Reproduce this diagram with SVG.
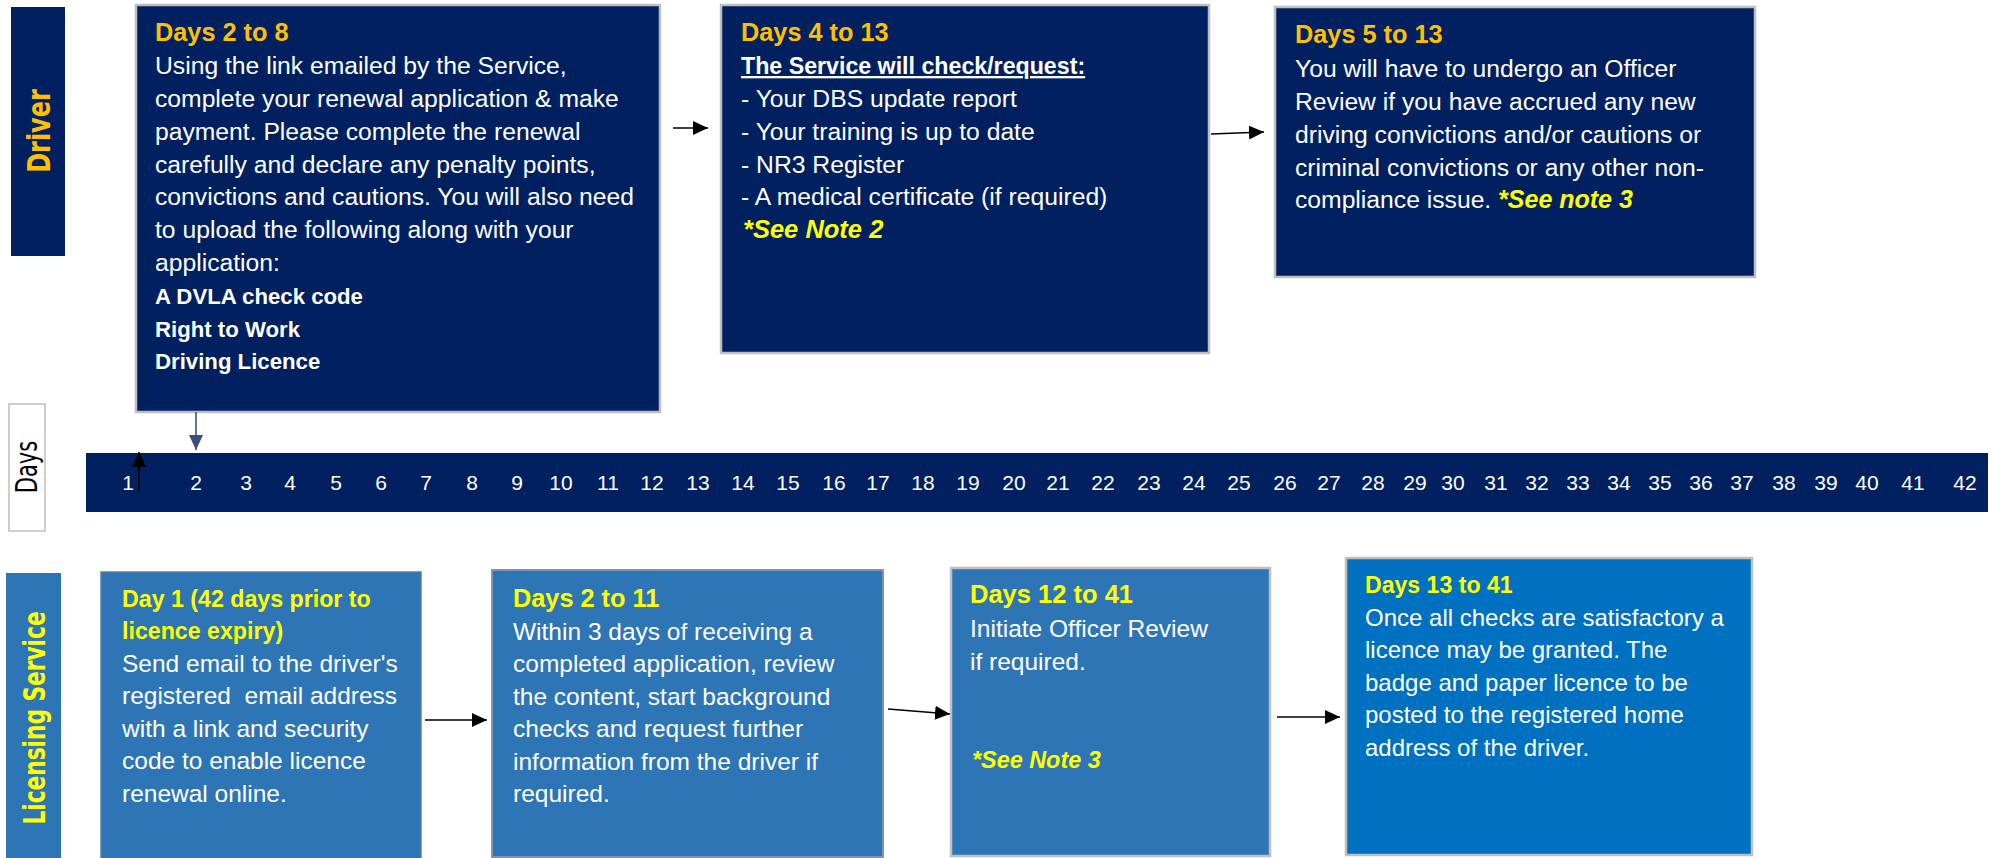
<svg xmlns="http://www.w3.org/2000/svg" width="1992" height="858" viewBox="0 0 1992 858">
<style>
text{font-family:"Liberation Sans",Arial,sans-serif}
.lane{font-family:"DejaVu Sans",Verdana,sans-serif;font-weight:bold}
.navy{fill:#002060;stroke:#BFBFBF;stroke-width:2.5}
.mid{fill:#2E75B6;stroke:#A6A6A6;stroke-width:2}
.bright{fill:#0070C0;stroke:#BFBFBF;stroke-width:2.5}
.amber{fill:#FFC000;font-weight:bold;font-size:25.3px}
.yel{fill:#FFFF00;font-weight:bold}
.note{fill:#FFFF00;font-weight:bold;font-style:italic}
.body{fill:#FFFFFF;font-size:24.7px}
.bodyL{fill:#FFFFFF;font-size:24.5px}
.bold{fill:#FFFFFF;font-weight:bold;font-size:22.2px}
.num{fill:#FFFFFF;font-size:21px;text-anchor:middle}
.conn{stroke:#000;stroke-width:1.6;fill:none}
</style>
<defs>
<marker id="ah" markerUnits="userSpaceOnUse" markerWidth="16" markerHeight="16" viewBox="0 0 16 16" refX="15" refY="8" orient="auto">
<path d="M0,1 L15,8 L0,15 Z" fill="#000"/>
</marker>
<marker id="ahs" markerUnits="userSpaceOnUse" markerWidth="16" markerHeight="16" viewBox="0 0 16 16" refX="15" refY="8" orient="auto">
<path d="M0,1 L15,8 L0,15 Z" fill="#3B4F7F"/>
</marker>
</defs>

<g id="lane-driver">
<rect x="11" y="7" width="54" height="249" fill="#002060"/>
<text class="lane" font-size="24" fill="#FFC000" text-anchor="middle" transform="translate(50,131) scale(1.35,1) rotate(-90)">Driver</text>
</g>

<g id="lane-days">
<rect x="9" y="404" width="36" height="127" fill="#FFFFFF" stroke="#BFBFBF" stroke-width="1.5"/>
<text font-family="DejaVu Sans,sans-serif" style="font-family:'DejaVu Sans',sans-serif" font-size="21" fill="#000" text-anchor="middle" transform="translate(37,467) scale(1.4,1) rotate(-90)">Days</text>
</g>

<g id="lane-licensing">
<rect x="6" y="573" width="55" height="285" fill="#2E75B6"/>
<text class="lane" font-size="21.7" fill="#FFFF00" text-anchor="middle" transform="translate(45,718) scale(1.4,1) rotate(-90)">Licensing Service</text>
</g>

<g id="timeline">
<rect x="86" y="453" width="1902" height="59" fill="#002060"/>
<text class="num" x="128" y="490">1</text>
<text class="num" x="196" y="490">2</text>
<text class="num" x="246" y="490">3</text>
<text class="num" x="290" y="490">4</text>
<text class="num" x="336" y="490">5</text>
<text class="num" x="381" y="490">6</text>
<text class="num" x="426" y="490">7</text>
<text class="num" x="472" y="490">8</text>
<text class="num" x="517" y="490">9</text>
<text class="num" x="561" y="490">10</text>
<text class="num" x="608" y="490">11</text>
<text class="num" x="652" y="490">12</text>
<text class="num" x="698" y="490">13</text>
<text class="num" x="743" y="490">14</text>
<text class="num" x="788" y="490">15</text>
<text class="num" x="834" y="490">16</text>
<text class="num" x="878" y="490">17</text>
<text class="num" x="923" y="490">18</text>
<text class="num" x="968" y="490">19</text>
<text class="num" x="1014" y="490">20</text>
<text class="num" x="1058" y="490">21</text>
<text class="num" x="1103" y="490">22</text>
<text class="num" x="1149" y="490">23</text>
<text class="num" x="1194" y="490">24</text>
<text class="num" x="1239" y="490">25</text>
<text class="num" x="1285" y="490">26</text>
<text class="num" x="1329" y="490">27</text>
<text class="num" x="1373" y="490">28</text>
<text class="num" x="1415" y="490">29</text>
<text class="num" x="1453" y="490">30</text>
<text class="num" x="1496" y="490">31</text>
<text class="num" x="1537" y="490">32</text>
<text class="num" x="1578" y="490">33</text>
<text class="num" x="1619" y="490">34</text>
<text class="num" x="1660" y="490">35</text>
<text class="num" x="1701" y="490">36</text>
<text class="num" x="1742" y="490">37</text>
<text class="num" x="1784" y="490">38</text>
<text class="num" x="1826" y="490">39</text>
<text class="num" x="1867" y="490">40</text>
<text class="num" x="1913" y="490">41</text>
<text class="num" x="1965" y="490">42</text>
</g>

<g id="driver-days-2-8">
<rect class="navy" x="136" y="5" width="524" height="407"/>
<text class="amber" x="155" y="41">Days 2 to 8</text>
<text class="body" x="155" y="74">Using the link emailed by the Service,</text>
<text class="body" x="155" y="107">complete your renewal application &amp; make</text>
<text class="body" x="155" y="140">payment. Please complete the renewal</text>
<text class="body" x="155" y="173">carefully and declare any penalty points,</text>
<text class="body" x="155" y="205">convictions and cautions. You will also need</text>
<text class="body" x="155" y="238">to upload the following along with your</text>
<text class="body" x="155" y="271">application:</text>
<text class="bold" x="155" y="304">A DVLA check code</text>
<text class="bold" x="155" y="337">Right to Work</text>
<text class="bold" x="155" y="369">Driving Licence</text>
</g>

<g id="driver-days-4-13">
<rect class="navy" x="721" y="5" width="488" height="348"/>
<text class="amber" x="741" y="41">Days 4 to 13</text>
<text fill="#FFFFFF" font-weight="bold" font-size="23.2" text-decoration="underline" x="741" y="74">The Service will check/request:</text>
<text class="body" x="741" y="107">- Your DBS update report</text>
<text class="body" x="741" y="140">- Your training is up to date</text>
<text class="body" x="741" y="173">- NR3 Register</text>
<text class="body" x="741" y="205">- A medical certificate (if required)</text>
<text class="note" font-size="25.5" x="743" y="238">*See Note 2</text>
</g>

<g id="driver-days-5-13">
<rect class="navy" x="1275" y="7" width="480" height="270"/>
<text class="amber" x="1295" y="43">Days 5 to 13</text>
<text class="body" x="1295" y="77">You will have to undergo an Officer</text>
<text class="body" x="1295" y="110">Review if you have accrued any new</text>
<text class="body" x="1295" y="143">driving convictions and/or cautions or</text>
<text class="body" x="1295" y="176">criminal convictions or any other non-</text>
<text class="body" x="1295" y="208">compliance issue.  <tspan class="note" font-size="25">*See note 3</tspan></text>
</g>

<g id="service-day-1">
<rect x="101" y="572" width="320" height="290" fill="#2E75B6" stroke="#5B7FA8" stroke-width="1.5"/>
<text class="yel" font-size="23.2" x="122" y="607">Day 1 (42 days prior to</text>
<text class="yel" font-size="23.2" x="122" y="639">licence expiry)</text>
<text class="bodyL" x="122" y="672">Send email to the driver's</text>
<text class="bodyL" x="122" y="704" xml:space="preserve">registered  email address</text>
<text class="bodyL" x="122" y="737">with a link and security</text>
<text class="bodyL" x="122" y="769">code to enable licence</text>
<text class="bodyL" x="122" y="802">renewal online.</text>
</g>

<g id="service-days-2-11">
<rect x="492" y="570" width="391" height="287" fill="#2E75B6" stroke="#7F95B5" stroke-width="2"/>
<text class="yel" font-size="25.3" x="513" y="607">Days 2 to 11</text>
<text class="bodyL" x="513" y="640">Within 3 days of receiving a</text>
<text class="bodyL" x="513" y="672">completed application, review</text>
<text class="bodyL" x="513" y="705">the content, start background</text>
<text class="bodyL" x="513" y="737">checks and request further</text>
<text class="bodyL" x="513" y="770">information from the driver if</text>
<text class="bodyL" x="513" y="802">required.</text>
</g>

<g id="service-days-12-41">
<rect x="951" y="568" width="319" height="288" fill="#2E75B6" stroke="#BFBFBF" stroke-width="2.5"/>
<text class="yel" font-size="25.5" x="970" y="603">Days 12 to 41</text>
<text class="bodyL" x="970" y="637">Initiate Officer Review</text>
<text class="bodyL" x="970" y="670">if required.</text>
<text class="note" font-size="23.4" x="972" y="768">*See Note 3</text>
</g>

<g id="service-days-13-41">
<rect class="bright" x="1346" y="558" width="406" height="297"/>
<text class="yel" font-size="23.1" x="1365" y="593">Days 13 to 41</text>
<text class="bodyL" font-size="24" style="font-size:24px" x="1365" y="626">Once all checks are satisfactory a</text>
<text class="bodyL" style="font-size:24px" x="1365" y="658">licence may be granted. The</text>
<text class="bodyL" style="font-size:24px" x="1365" y="691">badge and paper licence to be</text>
<text class="bodyL" style="font-size:24px" x="1365" y="723">posted to the registered home</text>
<text class="bodyL" style="font-size:24px" x="1365" y="756">address of the driver.</text>
</g>

<g id="connectors">
<line class="conn" x1="673" y1="128" x2="708" y2="128" marker-end="url(#ah)"/>
<line class="conn" x1="1211" y1="134" x2="1264" y2="132" marker-end="url(#ah)"/>
<line x1="196" y1="412" x2="196" y2="450" stroke="#3B4F7F" stroke-width="1.6" marker-end="url(#ahs)"/>
<line class="conn" x1="139" y1="492" x2="139" y2="452" stroke-width="2" marker-end="url(#ah)"/>
<line class="conn" x1="425" y1="720" x2="487" y2="720" marker-end="url(#ah)"/>
<line class="conn" x1="888" y1="709" x2="950" y2="714" marker-end="url(#ah)"/>
<line class="conn" x1="1277" y1="717" x2="1340" y2="717" marker-end="url(#ah)"/>
</g>
</svg>
